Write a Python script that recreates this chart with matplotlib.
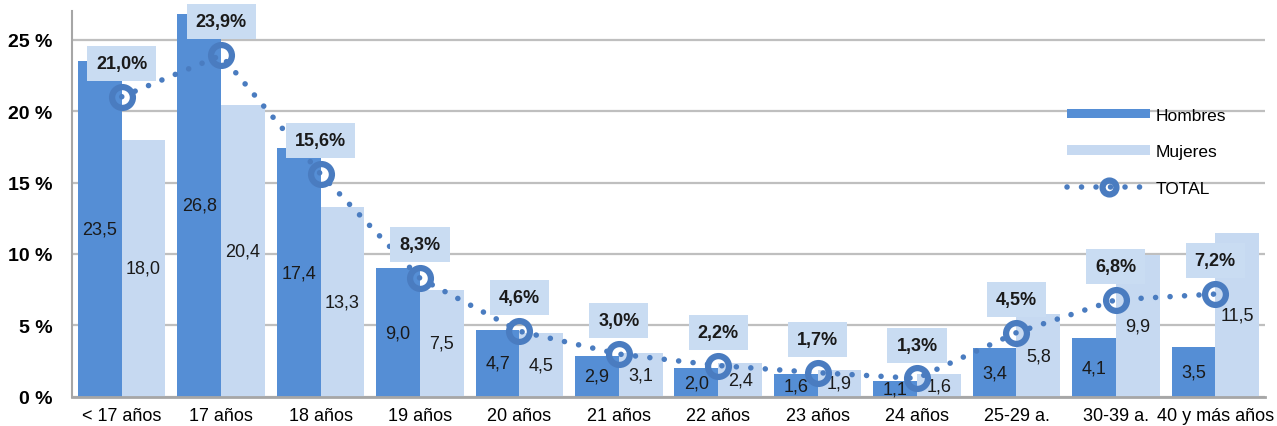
import numpy as np
import matplotlib
matplotlib.use('Agg')
import matplotlib.pyplot as plt
from matplotlib.patches import Patch
from matplotlib.lines import Line2D

plt.rcParams['font.family'] = ['Liberation Sans', 'DejaVu Sans']

# ── Datos ─────────────────────────────────────────────────────────────────────
categorias = ['< 17 años', '17 años', '18 años', '19 años', '20 años', '21 años',
              '22 años', '23 años', '24 años', '25-29 a.', '30-39 a.', '40 y más años']
hombres = [23.5, 26.8, 17.4, 9.0, 4.7, 2.9, 2.0, 1.6, 1.1, 3.4, 4.1, 3.5]
mujeres = [18.0, 20.4, 13.3, 7.5, 4.5, 3.1, 2.4, 1.9, 1.6, 5.8, 9.9, 11.5]
total = [21.0, 23.9, 15.6, 8.3, 4.6, 3.0, 2.2, 1.7, 1.3, 4.5, 6.8, 7.2]
yticks = [0, 5, 10, 15, 20, 25]

C_H = '#558ED5'
C_M = '#C6D9F1'
C_T = '#4A7CC0'
C_GRID = '#BFBFBF'
DOTS = (0, (0.01, 2.6))


def coma(v, suf=''):
    return f"{v:.1f}".replace('.', ',') + suf


fig = plt.figure(figsize=(12.77, 4.27), dpi=100)
ax = fig.add_axes([0.0564, 0.068, 0.9342, 0.904])

x = np.arange(len(categorias))
w = 0.44
ax.bar(x - w / 2, hombres, w, color=C_H, zorder=2)
ax.bar(x + w / 2, mujeres, w, color=C_M, zorder=2)

for xi, v in zip(x, hombres):
    ax.text(xi - w / 2, v / 2, coma(v), ha='center', va='center',
            fontsize=13, color='#1a1a1a', zorder=3)
for xi, v in zip(x, mujeres):
    ax.text(xi + w / 2, v / 2, coma(v), ha='center', va='center',
            fontsize=13, color='#1a1a1a', zorder=3)

# línea TOTAL
ax.plot(x, total, color=C_T, lw=4, linestyle=DOTS,
        dash_capstyle='round', zorder=4)
ax.plot(x, total, linestyle='none', marker='o', ms=15, mew=4.5,
        mfc='none', mec=C_T, zorder=5)
for xi, v in zip(x, total):
    ax.annotate(coma(v, '%'), (xi, v), xytext=(0, 24), textcoords='offset points',
                ha='center', va='center', fontsize=13, fontweight='bold',
                color='#1a1a1a', zorder=6,
                bbox=dict(boxstyle='square,pad=0.5', fc='#C9DCF2', ec='none'))

ax.set_xlim(-0.5, len(categorias) - 0.5)
ax.set_ylim(0, 27)
ax.set_yticks(yticks)
ax.set_yticklabels([f"{t} %" for t in yticks], fontsize=14, fontweight='bold')
ax.set_xticks(x)
ax.set_xticklabels(categorias, fontsize=13)
ax.tick_params(length=0, pad=7)
ax.tick_params(axis='y', pad=14)
ax.yaxis.grid(True, color=C_GRID, lw=1.6, zorder=0)
ax.set_axisbelow(True)
for s in ['top', 'right']:
    ax.spines[s].set_visible(False)
ax.spines['left'].set_color('#A6A6A6')
ax.spines['left'].set_linewidth(1.5)
ax.spines['bottom'].set_color('#A6A6A6')
ax.spines['bottom'].set_linewidth(2)

handles = [
    Patch(facecolor=C_H, edgecolor='none'),
    Patch(facecolor=C_M, edgecolor='none'),
    Line2D([0], [0], color=C_T, lw=4, linestyle=DOTS,
           dash_capstyle='round', marker='o', ms=10, mew=4.5, mfc='none', mec=C_T),
]
ax.legend(handles, ['Hombres', 'Mujeres', 'TOTAL'], loc='upper left',
          bbox_to_anchor=(0.821, 0.79), frameon=False, fontsize=12.5,
          handlelength=4.8, handleheight=0.5, labelspacing=1.25, handletextpad=0.3)

fig.savefig('out.png', dpi=100)
